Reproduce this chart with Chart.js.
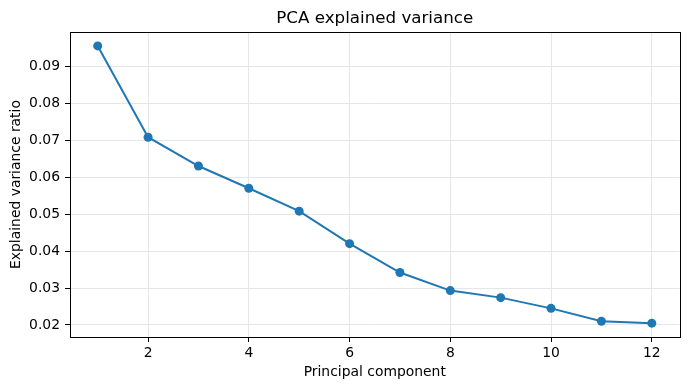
<!DOCTYPE html>
<html>
<head>
<meta charset="utf-8">
<script src="https://cdn.jsdelivr.net/npm/chart.js@4/dist/chart.umd.min.js"></script>
<style>
  html, body { margin: 0; padding: 0; background: #fff; }
  canvas { display: block; }
</style>
</head>
<body>
<canvas id="chart" width="689" height="390"></canvas>
<script>
const components = [1, 2, 3, 4, 5, 6, 7, 8, 9, 10, 11, 12];
const ratios = [0.0955, 0.0708, 0.0630, 0.0570, 0.0508, 0.0420, 0.0342, 0.0293, 0.0274, 0.0245, 0.0210, 0.0205];
const xTicks = [2, 4, 6, 8, 10, 12];
const yTicks = [0.02, 0.03, 0.04, 0.05, 0.06, 0.07, 0.08, 0.09];

const font = 'DejaVu Sans';
const gridColor = '#e6e6e6';

// matplotlib-style 5% margins around the data
const yLo = Math.min(...ratios), yHi = Math.max(...ratios);
const yPad = (yHi - yLo) * 0.05;
const xLo = components[0], xHi = components[components.length - 1];
const xPad = (xHi - xLo) * 0.05;

// full box around the plot area, like the axes frame
const frame = {
  id: 'frame',
  afterDraw(chart) {
    const { ctx, chartArea: a } = chart;
    ctx.save();
    ctx.strokeStyle = '#000';
    ctx.lineWidth = 1;
    ctx.strokeRect(Math.round(a.left) + 0.5, Math.round(a.top) + 0.5,
      Math.round(a.right - a.left), Math.round(a.bottom - a.top));
    ctx.restore();
  }
};

new Chart(document.getElementById('chart').getContext('2d'), {
  type: 'line',
  data: {
    datasets: [{
      data: components.map((c, i) => ({ x: c, y: ratios[i] })),
      borderColor: '#1f77b4',
      backgroundColor: '#1f77b4',
      borderWidth: 2,
      pointRadius: 4.5,
      pointHoverRadius: 4.5,
      pointBorderWidth: 0,
      tension: 0
    }]
  },
  options: {
    responsive: false,
    animation: false,
    layout: { padding: { left: 0, right: 9.5, top: 0, bottom: 0 } },
    plugins: {
      legend: { display: false },
      tooltip: { enabled: false },
      title: {
        display: true,
        text: 'PCA explained variance',
        fullSize: false,
        color: '#000',
        font: { family: font, size: 16.7, weight: 'normal', lineHeight: 1.2 },
        padding: { top: 9, bottom: 3 }
      }
    },
    scales: {
      x: {
        type: 'linear',
        min: xLo - xPad,
        max: xHi + xPad,
        afterFit(s) { s.height = 53; },
        afterBuildTicks(s) { s.ticks = xTicks.map(v => ({ value: v })); },
        ticks: {
          color: '#000',
          font: { family: font, size: 13.9 },
          padding: 3,
          maxRotation: 0
        },
        grid: { color: gridColor, lineWidth: 1, tickColor: '#000', tickLength: 5 },
        border: { display: false },
        title: {
          display: true,
          text: 'Principal component',
          color: '#000',
          font: { family: font, size: 13.9 },
          padding: { top: 0, bottom: 9 }
        }
      },
      y: {
        min: yLo - yPad,
        max: yHi + yPad,
        afterFit(s) { s.width = 70; },
        afterBuildTicks(s) { s.ticks = yTicks.map(v => ({ value: v })); },
        ticks: {
          color: '#000',
          font: { family: font, size: 13.9 },
          padding: 5,
          callback: v => v.toFixed(2)
        },
        grid: { color: gridColor, lineWidth: 1, tickColor: '#000', tickLength: 5 },
        border: { display: false },
        title: {
          display: true,
          text: 'Explained variance ratio',
          color: '#000',
          font: { family: font, size: 13.9 },
          padding: { top: 8, bottom: 0 }
        }
      }
    }
  },
  plugins: [frame]
});
</script>
</body>
</html>
